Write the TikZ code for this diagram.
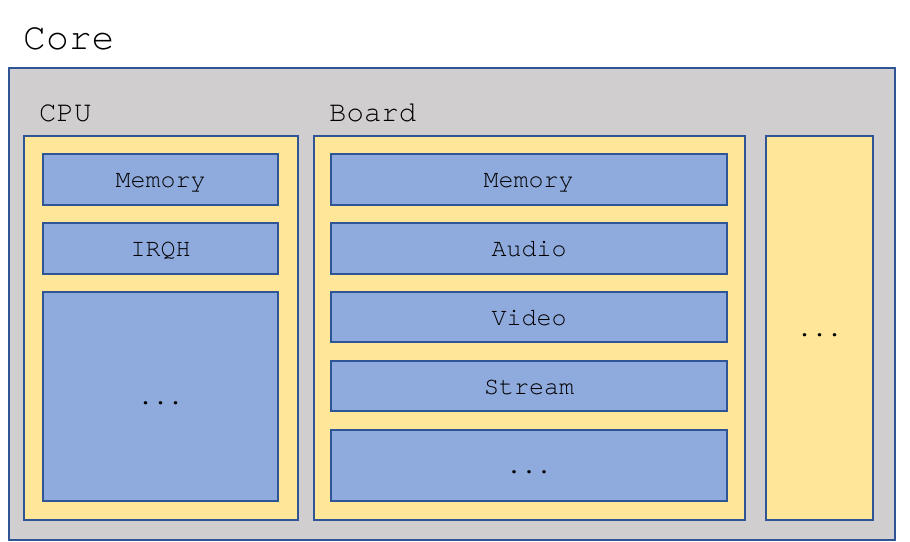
\documentclass[tikz,border=0pt]{standalone}
\usepackage{fontspec}
\setmonofont{texgyrecursor-regular.otf}
\definecolor{coregray}{HTML}{D0CECE}
\definecolor{modyellow}{HTML}{FFE699}
\definecolor{subblue}{HTML}{8FAADC}
\definecolor{edgeblue}{HTML}{2F5597}
\begin{document}
\begin{tikzpicture}[x=1pt,y=-1pt,
  box/.style={draw=edgeblue,line width=1.5pt},
  corebox/.style={box,fill=coregray},
  modbox/.style={box,fill=modyellow},
  subbox/.style={box,fill=subblue},
  bigtxt/.style={font=\fontsize{38}{40}\selectfont\ttfamily,anchor=base west,inner sep=0pt},
  midtxt/.style={font=\fontsize{29}{31}\selectfont\ttfamily,anchor=base west,inner sep=0pt},
  smalltxt/.style={font=\fontsize{25}{27}\selectfont\ttfamily,anchor=base,inner sep=0pt}]
\useasboundingbox (0,0) rectangle (910,541);
\draw[corebox] (9,68) rectangle (895,540);
\node[bigtxt] (coretxt) at (23,49) {Core};
\node[midtxt] (cputxt) at (39,121) {CPU};
\node[midtxt] (boardtxt) at (329,121) {Board};
% CPU
\draw[modbox] (24,136) rectangle (298,520);
\draw[subbox] (43,154) rectangle (278,205);
\node[smalltxt] (cmem) at (160.5,187.5) {Memory};
\draw[subbox] (43,223) rectangle (278,274);
\node[smalltxt] (cirq) at (160.5,256.5) {IRQH};
\draw[subbox] (43,292) rectangle (278,501);
\node[smalltxt] (cdots) at (160.5,404.5) {...};
% Board
\draw[modbox] (314,136) rectangle (745,520);
\draw[subbox] (331,154) rectangle (727,205);
\node[smalltxt] (bmem) at (528.5,187.5) {Memory};
\draw[subbox] (331,223) rectangle (727,274);
\node[smalltxt] (baud) at (529,256.5) {Audio};
\draw[subbox] (331,292) rectangle (727,342);
\node[smalltxt] (bvid) at (529,325) {Video};
\draw[subbox] (331,361) rectangle (727,411);
\node[smalltxt] (bstr) at (529,394) {Stream};
\draw[subbox] (331,430) rectangle (727,501);
\node[smalltxt] (bdots) at (529,473.5) {...};
% Other
\draw[modbox] (766,136) rectangle (873,520);
\node[smalltxt] (odots) at (819.5,336) {...};
\end{tikzpicture}
\end{document}
